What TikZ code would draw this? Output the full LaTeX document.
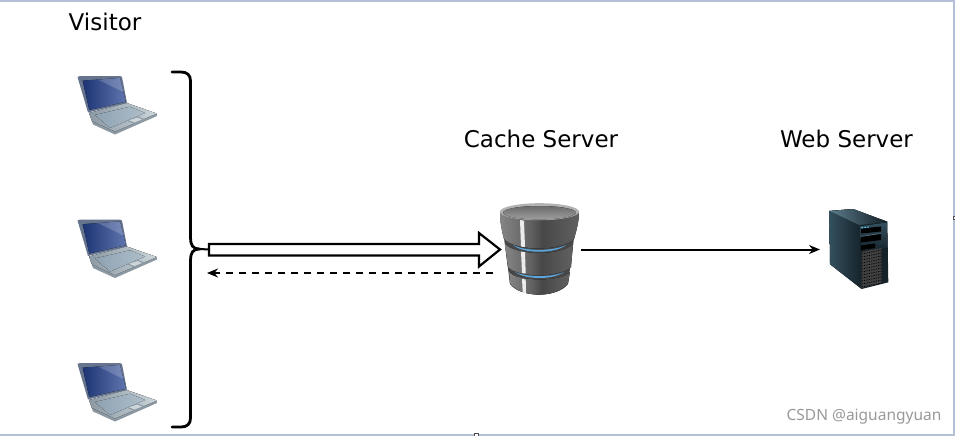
\documentclass[tikz,border=0pt]{standalone}
\usepackage{fontspec}
\setmainfont{DejaVu Sans}
\newfontfamily\markfont{Noto Sans}
\usetikzlibrary{arrows.meta}
\definecolor{framec}{HTML}{B3C0D8}
\definecolor{blueglow}{HTML}{5AA5DC}
\definecolor{lidc}{HTML}{66748E}
\definecolor{scrd}{HTML}{1D3474}
\definecolor{scrl}{HTML}{5F75AE}
\definecolor{silver}{HTML}{CBD5DA}
\definecolor{silverd}{HTML}{8C99A3}
\definecolor{keyc}{HTML}{8EA2B2}
\definecolor{keyl}{HTML}{AEBECA}
\definecolor{srvd}{HTML}{15222A}
\definecolor{srvm}{HTML}{34505E}
\definecolor{srvl}{HTML}{5A7A88}
\pgfdeclarehorizontalshading{dbbody}{100bp}{
  color(0bp)=(black!55);
  color(25bp)=(black!48);
  color(44bp)=(black!62);
  color(52bp)=(black!72);
  color(75bp)=(black!62);
  color(100bp)=(black!38)}
\tikzset{
  x=1pt,y=-1pt,
  lbl/.style={font=\fontsize{23}{26}\selectfont,inner sep=0pt,anchor=center,text=black},
  framebar/.style={fill=framec,draw=none},
  handle/.style={fill=white,draw=black!70,line width=.5pt},
  conn/.style={draw=black,line width=2pt,-{Stealth[length=11pt,width=9pt]}},
  connd/.style={conn,dash pattern=on 7pt off 6pt},
  dbpart/.style={shading=dbbody},
  laptop/.pic={
    % base
    \fill[silverd] (89,113) -- (126.7,103) -- (156.7,113.5) -- (157,116) -- (115,134.5) -- (93,124.5) -- cycle;
    \fill[left color=silverd,right color=silver] (89,113) -- (126.7,103) -- (156.7,113.5) -- (115,131.5) -- (92,121) -- cycle;
    % keyboard
    \fill[left color=keyc,right color=keyl] (95,115) -- (130,106.7) -- (145,113) -- (110,128) -- cycle;
    \fill[silverd] (126,120.5) -- (138,116.5) -- (145.5,119.5) -- (135,124) -- cycle;
    \fill[silver] (129,120.3) -- (137.5,117.5) -- (142,119.5) -- (134.5,122.5) -- cycle;
    % lid
    \fill[lidc] (77.5,77) -- (80,76) -- (120,76) -- (122,77) -- (127,103) -- (88,112.5) -- cycle;
    \fill[left color=scrd,right color=scrl] (82.7,80.7) -- (120,78) -- (125.7,101.7) -- (89.3,110) -- cycle;
    \fill[white,opacity=.18] (98,79.6) -- (120,78) -- (123.5,92) -- cycle;
  }
}
\begin{document}
\begin{tikzpicture}
\useasboundingbox (0,0) rectangle (955,436);
\fill[white] (0,0) rectangle (955,436);
% frame
\fill[framebar] (0,0) rectangle (955,2.5);
\fill[framebar] (953,0) rectangle (955,436);
\fill[framebar] (0,433.5) rectangle (955,436);
\filldraw[handle] (474.5,433.5) rectangle (478,436);
\fill[white] (951,216) rectangle (955,219);
\draw[handle] (953.5,216.5) rectangle (955,219);

% labels
\node[lbl] (visitor) at (105,21.5) {Visitor};
\node[lbl] (cachelabel) at (541,139) {Cache Server};
\node[lbl] (weblabel) at (846.5,139) {Web Server};
\node[font=\markfont\fontsize{15.5}{18}\selectfont,text=black!40,inner sep=0pt] (mark) at (864,417) {CSDN @aiguangyuan};

% laptops
\pic at (0,0) {laptop};
\pic at (0,143.5) {laptop};
\pic at (0,287) {laptop};

% cache server
\begin{scope}
  % dark backing with the two glowing gaps
  \fill[black!72] (504,238) -- (510,284) .. controls (520,298) and (558,298) .. (568,284) -- (574,238) .. controls (560,250) and (518,250) .. (504,238) -- cycle;
  \fill[blueglow] (513,245) .. controls (525,251.5) and (553,251.5) .. (566,245) .. controls (555,254) and (523,254) .. (513,245) -- cycle;
  \fill[blueglow] (515,272) .. controls (527,277.5) and (552,277.5) .. (564,272) .. controls (553,280) and (526,280) .. (515,272) -- cycle;
  % bottom segment
  \fill[dbpart] (509,272) -- (510,283) .. controls (520,298.5) and (558,298.5) .. (568,283) -- (570,272) .. controls (562,282) and (517,282) .. (509,272) -- cycle;
  % middle segment
  \fill[dbpart] (505,244) -- (508,267) .. controls (518,278) and (560,278) .. (571,267) -- (573,244) .. controls (562,256) and (516,256) .. (505,244) -- cycle;
  % top segment
  \fill[dbpart] (500,212) .. controls (500,222) and (502,232) .. (504,239)
     .. controls (516,251.5) and (562,251.5) .. (574,239)
     .. controls (576,232) and (579,222) .. (579,212) -- cycle;
  % lid
  \fill[black!30] (539.5,211.7) ellipse [x radius=39.5,y radius=8.5];
  \fill[top color=black!58,bottom color=black!38] (539.5,212.7) ellipse [x radius=36.5,y radius=6.7];
  % highlight
  \fill[black!8] (520,220) -- (524,220.7) -- (525,247) -- (521,246.5) -- cycle;
  \fill[black!8] (521,251.5) -- (525,252.2) -- (525.7,273.5) -- (522,273) -- cycle;
  \fill[black!8] (522,279) -- (525.7,279.5) -- (526,293.5) -- (522.7,292.5) -- cycle;
  \coordinate (cache) at (539.5,249);
\end{scope}

% web server
\fill[left color=srvm,right color=srvd] (829.3,211) -- (853.3,209) -- (861,225) -- (861.7,289) -- (830,264.3) -- cycle;
\fill[left color=srvl,right color=srvd,shading angle=100] (829.3,211) -- (853.3,209) -- (887.3,221.7) -- (860,225.5) -- cycle;
\fill[srvd] (860,225) -- (887.3,221.7) -- (888.3,282.3) -- (861.7,289) -- cycle;
\fill[top color=srvm,bottom color=srvd] (860.5,226) -- (887,222.5) -- (887.5,248) -- (861,252) -- cycle;
\fill[black] (861,228.5) -- (881,226.5) -- (881,231.5) -- (861,233.5) -- cycle;
\draw[srvl,line width=.5pt] (861,236.5) -- (881,233.5);
\fill[black] (861,237) -- (881,234) -- (881,240) -- (861,242.5) -- cycle;
\fill[black] (861,245.5) -- (875,243.5) -- (875,248) -- (861,250) -- cycle;
\fill[black!75] (861.7,252) -- (881.7,248) -- (881.7,283) -- (861.7,288) -- cycle;
\foreach \yy in {254,257,...,287}{
  \draw[black,line width=.7pt,dash pattern=on 1.2pt off 1.2pt] (861.7,\yy) -- (881.7,\yy-4);
}
\fill[cyan!60!white] (861.3,227) rectangle (863,228.4) (864.3,226.8) rectangle (866,228.2) (867.3,226.5) rectangle (868.6,227.9);
\coordinate (web) at (858,249);

% brace
\coordinate (bracetop) at (172,72);
\coordinate (bracebot) at (172,427);
\coordinate (tip) at (199,249);
\draw[black,line width=2.8pt,line cap=round] (bracetop) -- (181,72)
  .. controls (187,72) and (190.5,75) .. (190.5,81) -- (190.5,238)
  .. controls (190.5,245) and (193,249) .. (199,249)
  .. controls (193,249) and (190.5,253) .. (190.5,260) -- (190.5,418)
  .. controls (190.5,424) and (187,427) .. (181,427) -- (bracebot);

% hollow arrow
\coordinate (hollowstart) at (209,249.5);
\coordinate (hollowend) at (500,249.5);
\draw[black,line width=2pt] (tip) -- (hollowstart);
\draw[black,line width=2.2pt,fill=white,line join=miter]
  (209,244) -- (479,244) -- (479,233) -- (hollowend) -- (479,266.5) -- (479,255.5) -- (209,255.5) -- cycle;

% dashed return
\coordinate (retstart) at (493,273);
\coordinate (retend) at (207,273);
\draw[connd] (retstart) -- (retend);

% cache to web
\coordinate (webin) at (820,249.5);
\coordinate (cacheout) at (581,249.5);
\draw[conn] (cacheout) -- (webin);
\end{tikzpicture}
\end{document}
